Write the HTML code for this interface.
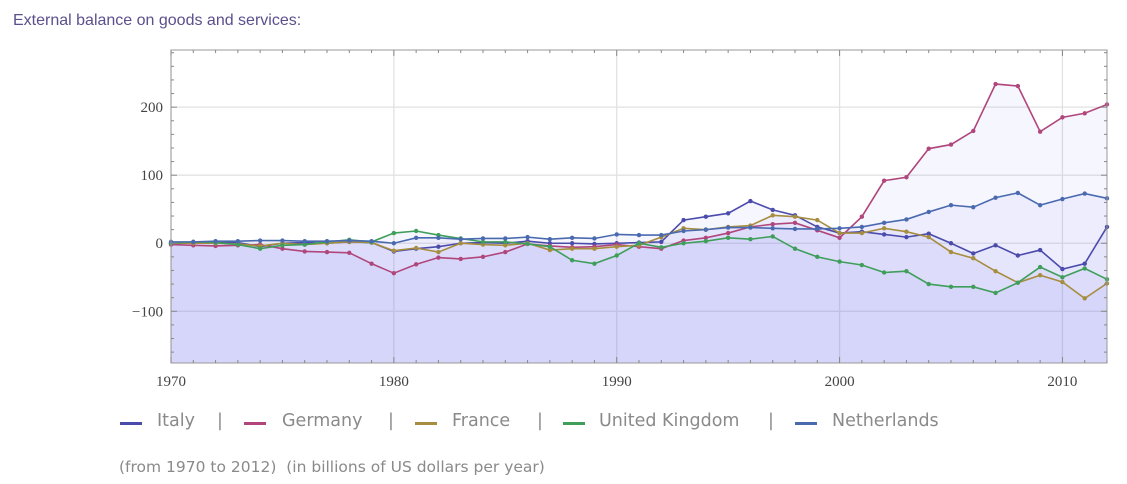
<!DOCTYPE html>
<html><head><meta charset="utf-8"><style>
body{margin:0;background:#fff;width:1127px;height:484px;overflow:hidden;position:relative;font-family:"DejaVu Sans","Liberation Sans",sans-serif}
#title{position:absolute;left:13px;top:12px;font-family:"Liberation Sans",sans-serif;font-size:16px;color:#5b4f8c}
.leg{position:absolute;top:411px;font-size:17.5px;color:#8a8a8a;white-space:nowrap}
.sw{position:absolute;top:422px;width:22px;height:3px}
#foot{position:absolute;left:119px;top:458px;font-size:15.5px;color:#8a8a8a;white-space:nowrap}
</style></head><body>
<div id="title">External balance on goods and services:</div>
<svg id="chart" width="1127" height="484" style="position:absolute;left:0;top:0"></svg>
<div class="sw" style="left:120px;background:#4b4bab"></div>
<div class="leg" style="left:157px">Italy</div>
<div class="leg" style="left:217px">|</div>
<div class="sw" style="left:244px;background:#b0467c"></div>
<div class="leg" style="left:282px">Germany</div>
<div class="leg" style="left:388px">|</div>
<div class="sw" style="left:415px;background:#a68d3f"></div>
<div class="leg" style="left:452px">France</div>
<div class="leg" style="left:537px">|</div>
<div class="sw" style="left:563px;background:#3f9e5a"></div>
<div class="leg" style="left:599px">United Kingdom</div>
<div class="leg" style="left:768px">|</div>
<div class="sw" style="left:795px;background:#4a6ab0"></div>
<div class="leg" style="left:832px">Netherlands</div>
<div id="foot">(from 1970 to 2012)&nbsp; (in billions of US dollars per year)</div>
<script>
const years=[];for(let y=1970;y<=2012;y++)years.push(y);
const italy=[0,1,1,1,-5,0,1,0,2,1,-12,-8,-5,0,1,0,3,0,0,-1,0,1,2,34,39,44,62,49,41,24,15,17,13,9,14,0,-15,-3,-18,-10,-38,-30,24];
const germany=[-2,-3,-4,-3,-2,-8,-12,-13,-14,-30,-44,-31,-21,-23,-20,-13,-1,-4,-6,-5,-2,-5,-8,4,8,15,24,28,30,19,8,39,92,97,139,145,165,234,231,164,185,191,204];
const france=[0,0,0,-1,-4,0,-2,0,2,1,-11,-7,-13,0,-2,-3,0,-10,-8,-8,-5,-3,9,22,20,24,26,41,39,34,15,15,22,17,9,-13,-22,-41,-58,-47,-57,-81,-59];
const uk=[0,2,1,-2,-8,-3,-2,2,5,2,15,18,12,7,2,2,-1,-5,-25,-30,-18,0,-6,0,3,8,6,10,-8,-20,-27,-32,-43,-41,-60,-64,-64,-73,-58,-35,-50,-37,-53];
const neth=[2,2,3,3,4,4,3,3,4,3,0,8,8,6,7,7,9,6,8,7,13,12,12,18,20,23,23,22,21,21,22,24,30,35,46,56,53,67,74,56,65,73,66];
const yTicks=[-100,0,100,200];
const xTicks=[1970,1980,1990,2000,2010];
const series=[["italy",italy,"#4b4bab"],["germany",germany,"#b0467c"],["france",france,"#a68d3f"],["uk",uk,"#3f9e5a"],["netherlands",neth,"#4a6ab0"]];
const L=171,R=1107,T=50,B=363,Y0=-176,Y1=284;
const X=v=>L+(v-1970)/(2012-1970)*(R-L);
const Y=v=>B-(v-Y0)/(Y1-Y0)*(B-T);
const svg=document.getElementById('chart');const NS='http://www.w3.org/2000/svg';
function mk(t,a,p){const e=document.createElementNS(NS,t);for(const k in a)e.setAttribute(k,a[k]);(p||svg).appendChild(e);return e;}
for(const t of xTicks){const g=mk('line',{x1:X(t),x2:X(t),y1:T,y2:B,stroke:'#e2e2e2','stroke-width':1.3});

}
for(const t of yTicks){const g=mk('line',{x1:L,x2:R,y1:Y(t),y2:Y(t),stroke:'#e2e2e2','stroke-width':1.3});

}
for(const s of series){let d='M'+X(years[0])+','+B;years.forEach((y,i)=>d+=' L'+X(y)+','+Y(s[1][i]));d+=' L'+X(years[years.length-1])+','+B+'Z';
const a=mk('path',{d:d,fill:'rgba(110,110,240,0.062)',stroke:'none'});

}
for(const s of series){const pts=years.map((y,i)=>X(y)+','+Y(s[1][i])).join(' ');
const l=mk('polyline',{points:pts,fill:'none',stroke:s[2],'stroke-width':1.6});


years.forEach((y,i)=>{const c=mk('circle',{cx:X(y),cy:Y(s[1][i]),r:2.2,fill:s[2]});

});}
const fr=mk('rect',{x:L,y:T,width:R-L,height:B-T,fill:'none',stroke:'#999','stroke-width':1});


for(let v=-160;v<=280;v+=20){for(const x of [L,R]){const dir=x===L?1:-1;const len=v%100===0?6:3;mk('line',{x1:x,x2:x+dir*len,y1:Y(v),y2:Y(v),stroke:'#888'});}}
for(let y=1970;y<=2012;y++){const len=y%10===0?6:3;mk('line',{x1:X(y),x2:X(y),y1:B,y2:B-len,stroke:'#888'});mk('line',{x1:X(y),x2:X(y),y1:T,y2:T+len,stroke:'#888'});}
for(const t of yTicks){const tx=mk('text',{x:163,y:Y(t)+5,'text-anchor':'end','font-family':'Liberation Serif,serif','font-size':15,fill:'#444'});tx.textContent=(t<0?'\u2212':'')+Math.abs(t);

}
for(const t of xTicks){const tx=mk('text',{x:X(t),y:386,'text-anchor':'middle','font-family':'Liberation Serif,serif','font-size':15,fill:'#444'});tx.textContent=t;

}
</script>
</body></html>
